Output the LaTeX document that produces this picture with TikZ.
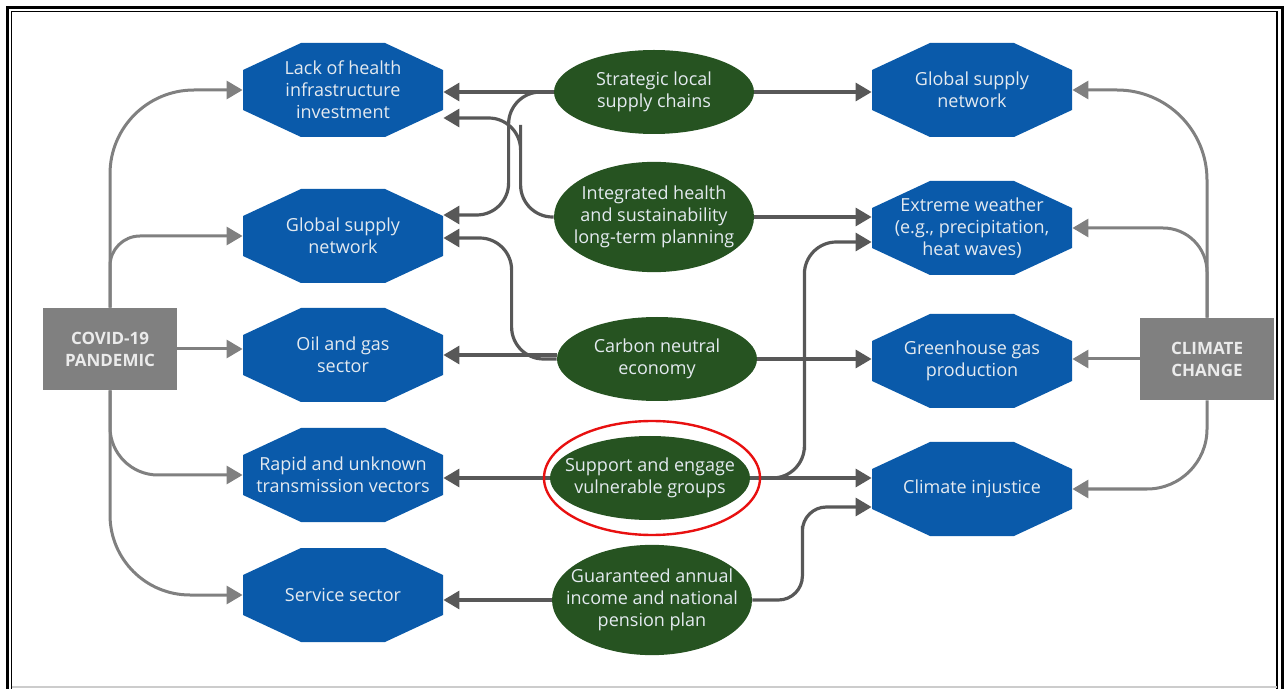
\documentclass[tikz,border=0pt]{standalone}
\usepackage{fontspec}
\setmainfont{Open Sans}
\usepackage{tikz}
\usetikzlibrary{arrows.meta,shapes.geometric}
\definecolor{myblue}{RGB}{10,90,170}
\definecolor{mygreen}{RGB}{38,83,33}
\definecolor{mygray}{RGB}{128,128,128}
\definecolor{mydark}{RGB}{88,88,88}
\definecolor{mylight}{RGB}{228,234,240}
\definecolor{myred}{RGB}{232,16,16}
% Achteck mit Text
\newcommand{\octbox}[3]{%
	\fill[myblue] (#2) ++(-100,-20) -- ++(0,40) -- ++(58,27) -- ++(84,0) -- ++(58,-27) -- ++(0,-40) -- ++(-58,-27) -- ++(-84,0) -- cycle;
	\node[octnode] (#1) at (#2) {#3};}

\begin{document}
\begin{tikzpicture}[x=0.5pt, y=-0.5pt, >={Triangle[length=8pt,width=9pt]}, font=\fontsize{9}{11}\selectfont,
	octnode/.style={minimum width=100pt, minimum height=47pt, inner sep=0pt, align=center, text=mylight},
	ovalnode/.style={ellipse, fill=mygreen, minimum width=100pt, minimum height=42pt, inner xsep=-10pt, inner ysep=4pt, align=center, text=mylight},
	causenode/.style={fill=mygray, minimum width=67pt, minimum height=41pt, inner sep=0pt, align=center, text=white!92!black, font=\fontsize{8.5}{11}\selectfont\bfseries},
	outarrow/.style={->, draw=mygray, line width=1.5pt},
	midarrow/.style={->, draw=mydark, line width=1.6pt}]
			% Rahmen zeichnen
			\useasboundingbox (0,0) rectangle (1285,689);
			\draw[line width=1.6pt] (7.5,689) -- (7.5,7.5) -- (1282.5,7.5) -- (1282.5,689);
			\draw[line width=0.6pt] (11.5,689) -- (11.5,11.5) -- (1277,11.5) -- (1277,689);
			\draw[gray!40, line width=0.6pt] (11.5,687) -- (1277,687);
			% Ursachen
			\node[causenode] (covid) at (110,349) {COVID-19\\PANDEMIC};
			\node[causenode] (climate) at (1207,359) {CLIMATE\\CHANGE};
			% Folgen links
			\octbox{lack}{343,90}{Lack of health\\infrastructure\\investment}
			\octbox{gsl}{343,236}{Global supply\\network}
			\octbox{oil}{343,355}{Oil and gas\\sector}
			\octbox{rapid}{343,475}{Rapid and unknown\\transmission vectors}
			\octbox{serv}{343,595}{Service sector}
			% Folgen rechts
			\octbox{gsr}{972,90}{Global supply\\network}
			\octbox{ext}{972,228}{Extreme weather\\(e.g., precipitation,\\heat waves)}
			\octbox{ghg}{972,361}{Greenhouse gas\\production}
			\octbox{inj}{972,489}{Climate injustice}
			% Massnahmen
			\node[ovalnode] (strat) at (654,92) {Strategic local\\supply chains};
			\node[ovalnode] (integ) at (654,217) {Integrated health\\and sustainability\\long-term planning};
			\node[ovalnode] (carbon) at (657,359) {Carbon neutral\\economy};
			\node[ovalnode] (supp) at (650,478) {Support and engage\\vulnerable groups};
			\node[ovalnode] (guar) at (652,600) {Guaranteed annual\\income and national\\pension plan};
			% Pfeile COVID-19
			\draw[outarrow, rounded corners=42pt] (covid.north) |- (lack.west);
			\draw[outarrow, rounded corners=15pt] (covid.north) |- (gsl.west);
			\draw[outarrow] (covid.east) -- (covid.east -| oil.west);
			\draw[outarrow, rounded corners=24pt] (covid.south) |- (rapid.west);
			\draw[outarrow, rounded corners=40pt] (covid.south) |- (serv.west);
			% Pfeile Klimawandel
			\draw[outarrow, rounded corners=45pt] (climate.north) |- (gsr.east);
			\draw[outarrow, rounded corners=22pt] (climate.north) |- (ext.east);
			\draw[outarrow] (climate.west) -- (climate.west -| ghg.east);
			\draw[outarrow, rounded corners=30pt] (climate.south) |- (inj.east);
			% Pfeile Massnahmen
			\draw[midarrow] (strat.west) -- (strat.west -| lack.east);
			\draw[midarrow, rounded corners=16pt] (strat.west) -| ++(-45,60) |- ([yshift=10.5pt]gsl.east);
			\draw[midarrow] (strat.east) -- (strat.east -| gsr.west);
			\draw[midarrow, rounded corners=16pt] (integ.west) -| ++(-33,-60) |- ([yshift=-14pt]lack.east);
			\draw[midarrow] (integ.east) -- (integ.east -| ext.west);
			\draw[midarrow, rounded corners=16pt] (carbon.west) -| ++(-45,-60) |- ([yshift=-1pt]gsl.east);
			\draw[midarrow] (oil.east -| carbon.west) -- (oil.east);
			\draw[midarrow] (carbon.east) -- (carbon.east -| ghg.west);
			\draw[midarrow] (supp.west) -- (supp.west -| rapid.east);
			\draw[midarrow] (supp.east) -- (supp.east -| inj.west);
			\draw[midarrow, rounded corners=16pt] (supp.east) -| ++(54,-60) |- ([yshift=-7pt]ext.west);
			\draw[midarrow] (guar.west) -- (guar.west -| serv.east);
			\draw[midarrow, rounded corners=12pt] (guar.east) -| ++(50,-50) |- ([yshift=-9pt]inj.west);
			% Markierung
			\node[draw=myred, ellipse, line width=1.2pt, minimum width=108pt, minimum height=57pt] (mark) at (652,478) {};
		\end{tikzpicture}
\end{document}
